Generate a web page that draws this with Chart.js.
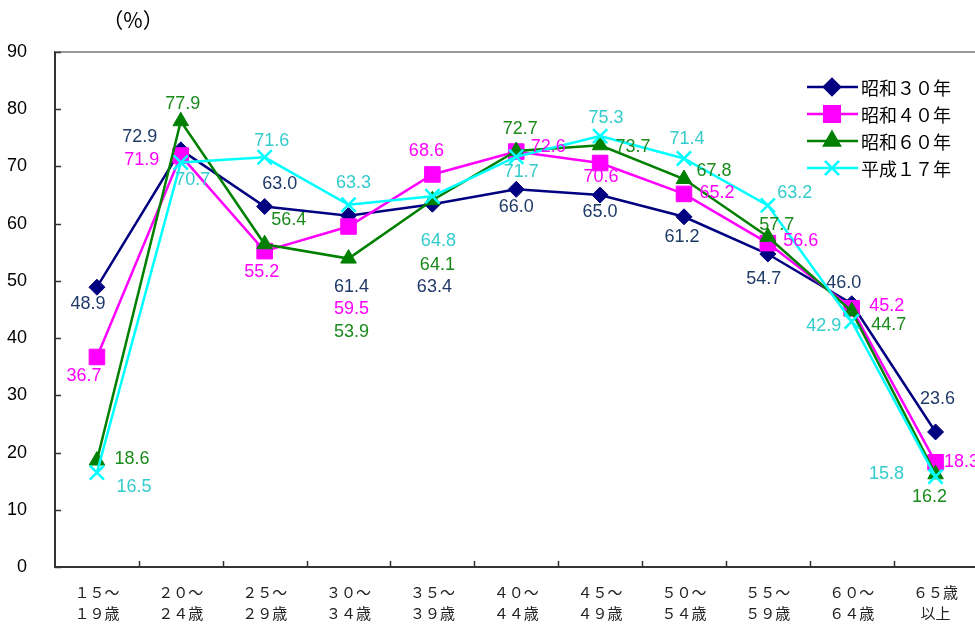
<!DOCTYPE html>
<html>
<head>
<meta charset="utf-8">
<script src="https://cdn.jsdelivr.net/npm/chart.js@4.4.1/dist/chart.umd.min.js"></script>
<style>
  html, body { margin: 0; padding: 0; background: #fff; overflow: hidden; }
</style>
</head>
<body>
<canvas id="chart" width="990" height="630"></canvas>
<script>
const categories = [
  ["１５～", "１９歳"], ["２０～", "２４歳"], ["２５～", "２９歳"], ["３０～", "３４歳"],
  ["３５～", "３９歳"], ["４０～", "４４歳"], ["４５～", "４９歳"], ["５０～", "５４歳"],
  ["５５～", "５９歳"], ["６０～", "６４歳"], ["６５歳", "以上"]
];
const seriesNames = ["昭和３０年", "昭和４０年", "昭和６０年", "平成１７年"];
const showa30 = [48.9, 72.9, 63.0, 61.4, 63.4, 66.0, 65.0, 61.2, 54.7, 46.0, 23.6];
const showa40 = [36.7, 71.9, 55.2, 59.5, 68.6, 72.6, 70.6, 65.2, 56.6, 45.2, 18.3];
const showa60 = [18.6, 77.9, 56.4, 53.9, 64.1, 72.7, 73.7, 67.8, 57.7, 44.7, 16.2];
const heisei17 = [16.5, 70.7, 71.6, 63.3, 64.8, 71.7, 75.3, 71.4, 63.2, 42.9, 15.8];
const yTicks = [0, 10, 20, 30, 40, 50, 60, 70, 80, 90];

// where each value label sits relative to its point (px)
const labelShift = [
  [[-9, 17], [-41, -13], [15, -22], [3, 71], [2, 83], [0, 18], [0, 17], [-2, 20], [-4, 25], [-8, -21], [2, -33]],
  [[-13, 19], [-39, 4], [-3, 21], [3, 83], [-6, -23], [32, -5], [1, 14], [33, -1], [33, -2], [35, -2], [26, 0]],
  [[35, -2], [2, -17], [24, -24], [3, 73], [5, 65], [4, -22], [33, 2], [30, -8], [9, -12], [37, 14], [-6, 23]],
  [[37, 14], [12, 18], [7, -16], [5, -22], [6, 45], [5, 15], [6, -18], [3, -19], [27, -12], [-28, 5], [-49, -3]]
];

const lineColors = ["#000080", "#ff00ff", "#008000", "#00ffff"];
const labelColors = ["#1f3a68", "#ff00ff", "#1a8a1a", "#33cccc"];
const pointStyles = ["rectRot", "rect", "triangle", "crossRot"];
const pointSizes = [8, 11, 9, 10];

const allSeries = [showa30, showa40, showa60, heisei17];

const datasets = allSeries.map((values, i) => ({
  label: seriesNames[i],
  data: values,
  borderColor: lineColors[i],
  backgroundColor: lineColors[i],
  borderWidth: 2.5,
  pointStyle: pointStyles[i],
  pointRadius: pointSizes[i],
  pointBorderColor: lineColors[i],
  pointBackgroundColor: lineColors[i],
  pointBorderWidth: i === 3 ? 2.5 : 1,
  tension: 0,
  order: 3 - i
}));

function drawMarker(ctx, ds, px, py) {
  ctx.save();
  ctx.fillStyle = ds.backgroundColor;
  ctx.strokeStyle = ds.borderColor;
  Chart.helpers.drawPoint(ctx, {
    pointStyle: ds.pointStyle,
    radius: ds.pointRadius,
    borderWidth: ds.pointBorderWidth,
    rotation: 0
  }, px, py);
  ctx.restore();
}

const decorations = {
  id: "decorations",
  afterDraw(chart) {
    const ctx = chart.ctx;
    const area = chart.chartArea;
    const x = chart.scales.x;
    const y = chart.scales.y;
    ctx.save();
    // top frame line
    ctx.strokeStyle = "#999";
    ctx.lineWidth = 2;
    ctx.beginPath();
    ctx.moveTo(area.left, area.top);
    ctx.lineTo(area.right, area.top);
    ctx.stroke();
    // inward tick marks
    ctx.strokeStyle = "#333";
    ctx.lineWidth = 1.5;
    ctx.beginPath();
    yTicks.forEach(v => {
      const py = Math.round(y.getPixelForValue(v)) + 0.5;
      ctx.moveTo(area.left, py);
      ctx.lineTo(area.left + 6, py);
    });
    for (let i = 1; i < categories.length; i++) {
      const px = Math.round((x.getPixelForValue(i - 1) + x.getPixelForValue(i)) / 2) + 0.5;
      ctx.moveTo(px, area.bottom);
      ctx.lineTo(px, area.bottom - 6);
    }
    ctx.stroke();
    // unit
    ctx.fillStyle = "#000";
    ctx.font = "21px 'Noto Sans CJK JP'";
    ctx.textAlign = "center";
    ctx.textBaseline = "middle";
    ctx.fillText("（%）", 133, 20);
    // legend
    chart.data.datasets.forEach((ds, i) => {
      const ly = 87 + i * 27;
      ctx.strokeStyle = ds.borderColor;
      ctx.lineWidth = 2.5;
      ctx.beginPath();
      ctx.moveTo(807, ly);
      ctx.lineTo(858, ly);
      ctx.stroke();
      drawMarker(ctx, ds, 832, ly);
      ctx.fillStyle = "#000";
      ctx.textAlign = "left";
      ctx.font = "18px 'Noto Sans CJK JP'";
      ctx.fillText(ds.label, 861, ly + 1);
    });
    ctx.restore();
  },
  afterDatasetsDraw(chart) {
    const ctx = chart.ctx;
    ctx.save();
    ctx.font = "18px 'Liberation Sans', Arial, sans-serif";
    ctx.textAlign = "center";
    ctx.textBaseline = "middle";
    chart.data.datasets.forEach((ds, i) => {
      const meta = chart.getDatasetMeta(i);
      ctx.fillStyle = labelColors[i];
      meta.data.forEach((pt, j) => {
        const s = labelShift[i][j];
        ctx.fillText(ds.data[j].toFixed(1), pt.x + s[0], pt.y + s[1]);
      });
    });
    ctx.restore();
  }
};

new Chart(document.getElementById("chart"), {
  type: "line",
  data: { labels: categories, datasets: datasets },
  options: {
    responsive: false,
    animation: false,
    layout: { padding: { top: 52, right: 10, left: 0, bottom: 0 } },
    plugins: { legend: { display: false }, tooltip: { enabled: false } },
    scales: {
      x: {
        offset: true,
        grid: { display: false },
        border: { display: true, color: "#333", width: 2 },
        ticks: {
          color: "#222",
          font: { family: "'Noto Sans CJK JP'", size: 15, lineHeight: 1.45 },
          padding: 6,
          maxRotation: 0,
          autoSkip: false
        },
        afterFit(scale) { scale.height = 63; }
      },
      y: {
        min: 0,
        max: 90,
        grid: { display: false },
        border: { display: true, color: "#333", width: 2 },
        ticks: {
          stepSize: 10,
          color: "#000",
          padding: 20,
          font: { family: "'Liberation Sans', Arial, sans-serif", size: 18 }
        },
        afterFit(scale) { scale.width = 55; }
      }
    }
  },
  plugins: [decorations]
});
</script>
</body>
</html>
